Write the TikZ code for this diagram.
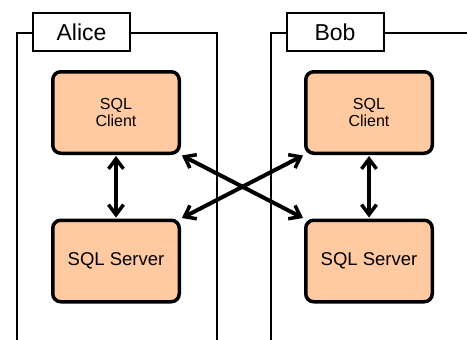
\documentclass[tikz,border=0pt]{standalone}
\usepackage{fontspec}
\setmainfont{Liberation Sans}
\usetikzlibrary{arrows.meta}
\definecolor{boxfill}{HTML}{FFC9A2}
\begin{document}
\begin{tikzpicture}[x=1pt,y=-1pt,
  frame/.style={line width=2pt},
  label/.style={draw,line width=2pt,fill=white,minimum width=97pt,minimum height=38pt,
    inner sep=0pt,font=\fontsize{23}{26}\selectfont},
  sqlbox/.style={draw,line width=3.5pt,fill=boxfill,rounded corners=8pt,
    minimum width=126.5pt,minimum height=81.5pt,inner sep=0pt,align=center},
  link/.style={line width=4pt,{Straight Barb[length=10pt,width=15pt,line width=3.5pt]}-{Straight Barb[length=10pt,width=15pt,line width=3.5pt]},
    shorten <=1pt,shorten >=1pt}]
\useasboundingbox (0,0) rectangle (467,340);
% the two hosts
\draw[frame] (17,345) -- (17,33) -- (217,33) -- (217,345);
\draw[frame] (271,345) -- (271,33) -- (472,33);
\node[label] (alice) at (81.5,32) {Alice};
\node[label] (bob) at (335,32) {Bob};
% clients and servers
\node[sqlbox,font=\fontsize{16}{17.5}\selectfont] (ac) at (116,112.5) {SQL\\Client};
\node[sqlbox,font=\fontsize{18.5}{20}\selectfont] (as) at (116,261) {SQL Server};
\node[sqlbox,font=\fontsize{16}{17.5}\selectfont] (bc) at (369,112.5) {SQL\\Client};
\node[sqlbox,font=\fontsize{18.5}{20}\selectfont] (bs) at (369,261) {SQL Server};
% connections
\draw[link] (ac.south) -- (as.north);
\draw[link] (bc.south) -- (bs.north);
\draw[link] (ac.south east) -- (bs.north west);
\draw[link] (bc.south west) -- (as.north east);
\end{tikzpicture}
\end{document}
